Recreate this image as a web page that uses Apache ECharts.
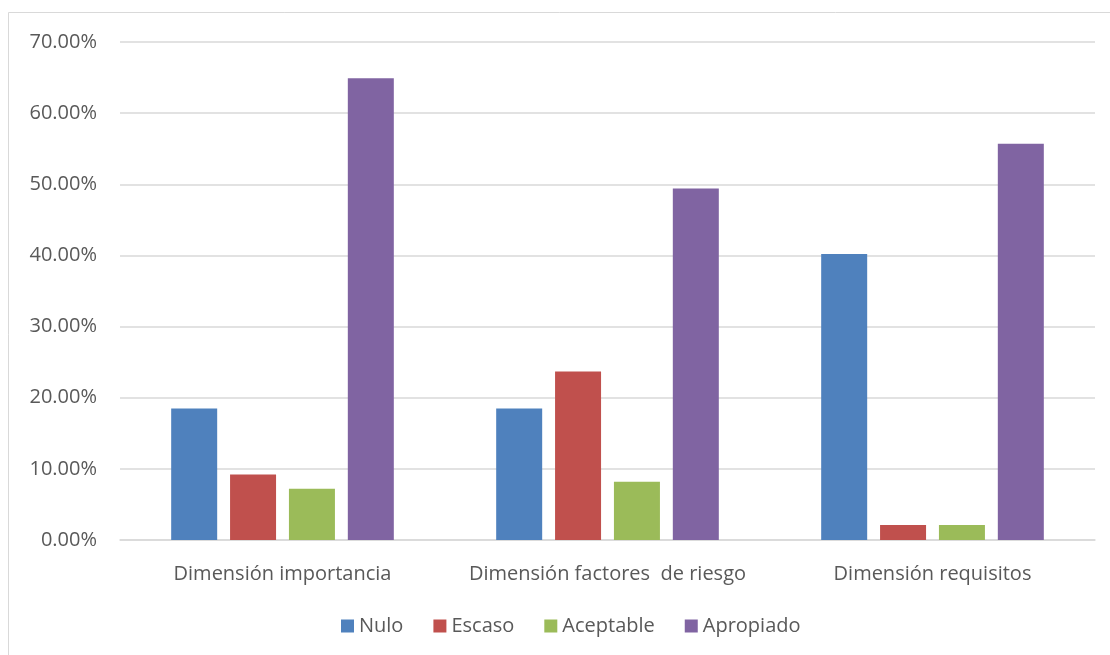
<!DOCTYPE html>
<html>
<head>
<meta charset="utf-8">
<script src="https://cdn.jsdelivr.net/npm/echarts@6/dist/echarts.min.js"></script>
<style>
  html, body { margin: 0; padding: 0; background: #ffffff; }
  #chart { width: 1110px; height: 655px; }
</style>
</head>
<body>
<div id="chart"></div>
<script>
// Categories (dimensions) and share of responses per level, in percent
const categories = ['Dimensión importancia', 'Dimensión factores  de riesgo', 'Dimensión requisitos'];
const nulo = [18.5, 18.5, 40.2];
const escaso = [9.2, 23.7, 2.1];
const aceptable = [7.2, 8.2, 2.1];
const apropiado = [64.9, 49.4, 55.7];
const seriesNames = ['Nulo', 'Escaso', 'Aceptable', 'Apropiado'];
const seriesColors = ['#4f81bd', '#c0504d', '#9bbb59', '#8064a2'];

const FONT = '"Open Sans", "Noto Sans", sans-serif';
const TEXT = '#595959';

const chart = echarts.init(document.getElementById('chart'), null, { renderer: 'canvas' });

const values = [nulo, escaso, aceptable, apropiado];
const series = seriesNames.map((name, i) => ({
  name: name,
  type: 'bar',
  data: values[i],
  barWidth: 46,
  barGap: '28%',
  itemStyle: { color: seriesColors[i] }
}));

chart.setOption({
  animation: false,
  backgroundColor: '#ffffff',
  graphic: [{
    type: 'rect',
    shape: { x: 8.5, y: 12.5, width: 1120, height: 700 },
    style: { fill: 'none', stroke: '#d9d9d9', lineWidth: 1 },
    silent: true
  }],
  grid: { left: 120, right: 15, top: 42, bottom: 115 },
  legend: {
    data: seriesNames,
    bottom: 14,
    left: 336,
    itemWidth: 13,
    itemHeight: 13,
    itemGap: 30,
    icon: 'rect',
    textStyle: { color: TEXT, fontSize: 20, fontFamily: FONT }
  },
  xAxis: {
    type: 'category',
    data: categories,
    axisLine: { show: true, lineStyle: { color: '#d9d9d9', width: 1.5 } },
    axisTick: { show: false },
    axisLabel: { color: TEXT, fontSize: 20, fontFamily: FONT, margin: 24, interval: 0 }
  },
  yAxis: {
    type: 'value',
    min: 0,
    max: 70,
    interval: 10,
    axisLine: { show: false },
    axisTick: { show: false },
    splitLine: { lineStyle: { color: '#d9d9d9', width: 1.5 } },
    axisLabel: {
      color: TEXT, fontSize: 20, fontFamily: FONT, margin: 23,
      formatter: v => v.toFixed(2) + '%'
    }
  },
  series: series
});
</script>
</body>
</html>
